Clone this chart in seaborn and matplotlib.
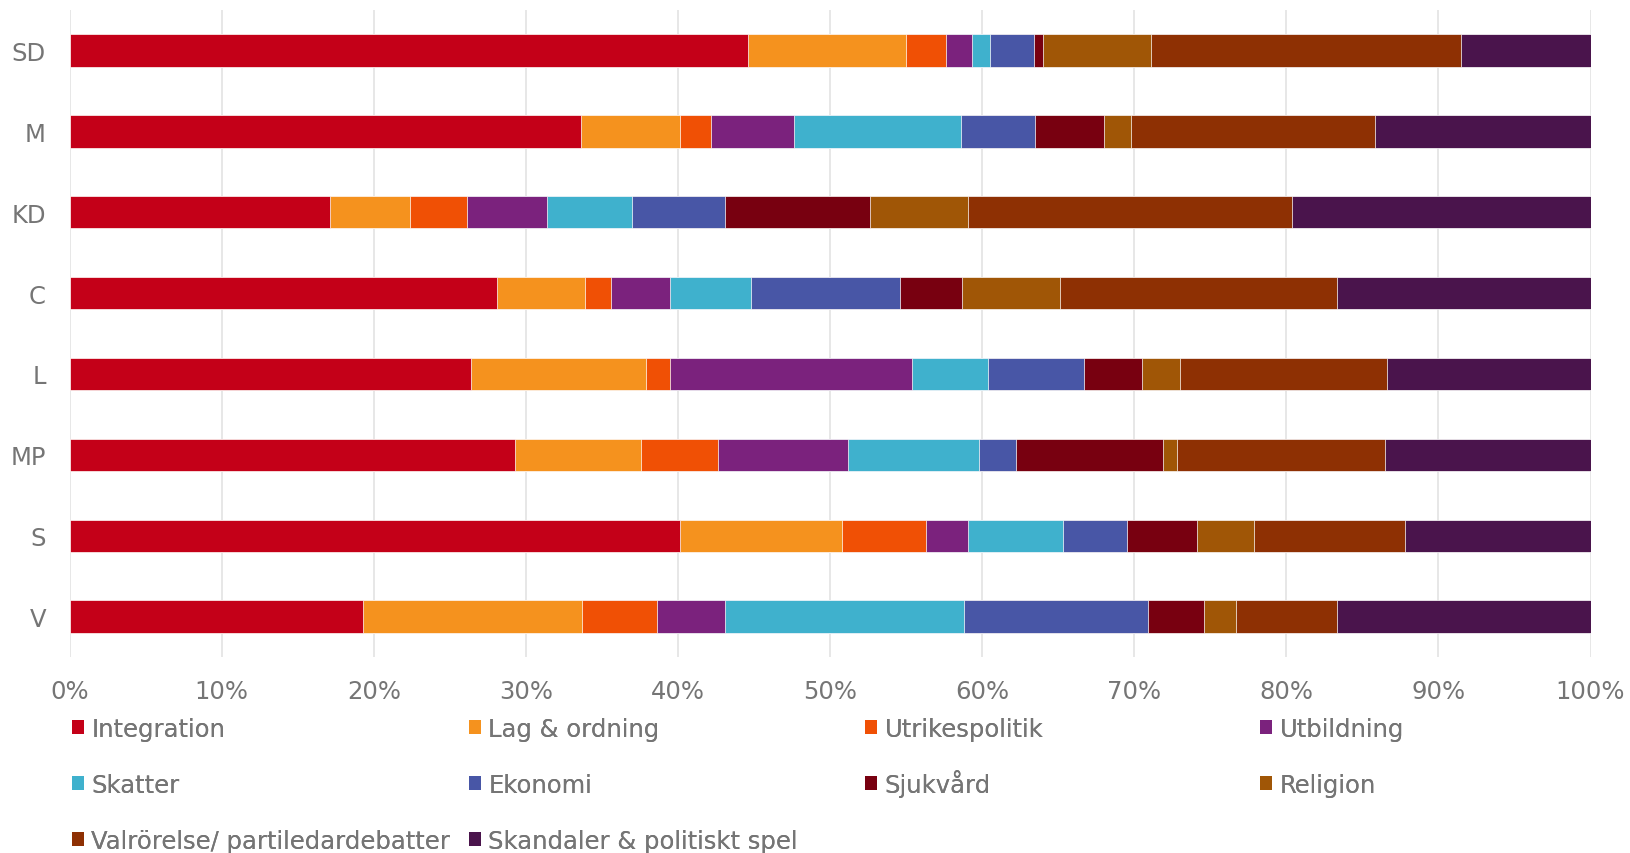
#%%
import numpy as np                           # for cumulative sums.
import pandas as pd                          # for wrapping data.
import seaborn as sns                        # for plotting.
import matplotlib.pyplot as plt              # specify "plt".
from matplotlib.patches import Patch         # legend squares.
sns.set_theme(style = "white")               # plain background.
plt.rcParams['font.family'] = ['DejaVu Sans']

#%%
# Parties, top to bottom.
parties = ["SD", "M", "KD", "C", "L", "MP", "S", "V"]

# Share of coverage per topic (%), one value per party in the order above.
integration  = [44.6, 33.6, 17.1, 28.1, 26.4, 29.3, 40.1, 19.3]
lag_ordning  = [10.4,  6.5,  5.3,  5.8, 11.5,  8.3, 10.7, 14.4]
utrikes      = [ 2.6,  2.1,  3.7,  1.7,  1.6,  5.0,  5.5,  4.9]
utbildning   = [ 1.7,  5.4,  5.3,  3.9, 15.9,  8.6,  2.8,  4.5]
skatter      = [ 1.2, 11.0,  5.6,  5.3,  5.0,  8.6,  6.2, 15.7]
ekonomi      = [ 2.9,  4.9,  6.1,  9.8,  6.3,  2.4,  4.2, 12.1]
sjukvard     = [ 0.6,  4.5,  9.5,  4.1,  3.8,  9.7,  4.6,  3.7]
religion     = [ 7.1,  1.8,  6.5,  6.4,  2.5,  0.9,  3.8,  2.1]
valrorelse   = [20.4, 16.0, 21.3, 18.2, 13.6, 13.7,  9.9,  6.6]
skandaler    = [ 8.5, 14.2, 19.6, 16.7, 13.4, 13.5, 12.2, 16.7]

topics = [
    "Integration",
    "Lag & ordning",
    "Utrikespolitik",
    "Utbildning",
    "Skatter",
    "Ekonomi",
    "Sjukvård",
    "Religion",
    "Valrörelse/ partiledardebatter",
    "Skandaler & politiskt spel",
]
colors = [
    "#C40018", "#F5921E", "#F05005", "#7B227D", "#3FB1CD",
    "#4856A6", "#780010", "#A05606", "#8E3003", "#4A144C",
]
x_ticks = [0, 10, 20, 30, 40, 50, 60, 70, 80, 90, 100]

#%%
data = pd.DataFrame(
    np.array([
        integration, lag_ordning, utrikes, utbildning, skatter,
        ekonomi, sjukvard, religion, valrorelse, skandaler
    ]).T,
    index = parties,
    columns = topics
)
# Normalise each row to 100 % and stack.
data = data.div(data.sum(axis = 1), axis = 0) * 100
cum = data.cumsum(axis = 1)

#%%
text_gray = "#757575"
fig = plt.figure(figsize = (16.3, 8.54), dpi = 100)
ax = fig.add_axes([0.0427, 0.2295, 0.9331, 0.7575])

# Draw the longest cumulative bar first so shorter ones sit on top.
for topic, color in reversed(list(zip(topics, colors))):
    sns.barplot(
        x = cum[topic].values,
        y = parties,
        color = color,
        width = 0.4,
        edgecolor = "white",
        linewidth = 0.5,
        saturation = 1,
        orient = "h",
        ax = ax
    )

ax.set_xlim(0, 100)
ax.set_ylim(7.5, -0.5)
ax.set_xticks(x_ticks)
ax.set_xticklabels([str(t) + "%" for t in x_ticks])
ax.xaxis.grid(True, color = "#E3E3E3", linewidth = 1.2)
ax.set_axisbelow(True)
for s in ax.spines.values():
    s.set_visible(False)
ax.tick_params(axis = "x", length = 0, pad = 16, labelsize = 17.5, labelcolor = text_gray)
ax.tick_params(axis = "y", length = 0, pad = 17, labelsize = 17.5, labelcolor = text_gray)
ax.set_xlabel("")
ax.set_ylabel("")

#%%
# Legend laid out row by row in 4 fixed columns (like the original),
# one small legend per entry, anchored at the bottom so the rows line up
# even when a label has an accent (å).
col_x = [72 / 1630, 469 / 1630, 865 / 1630, 1260 / 1630]
row_y = [1 - 742 / 854, 1 - 798 / 854, 1 - 854 / 854]
for i, (topic, color) in enumerate(zip(topics, colors)):
    leg = fig.legend(
        [Patch(facecolor = color, edgecolor = "none")],
        [topic],
        loc = "lower left",
        bbox_to_anchor = (col_x[i % 4], row_y[i // 4]),
        frameon = False,
        fontsize = 17.5,
        labelcolor = text_gray,
        handlelength = 0.5,
        handleheight = 0.5,
        handletextpad = 0.3,
        borderpad = 0,
        borderaxespad = 0
    )
    fig.add_artist(leg)

plt.savefig("out.png", dpi = 100)
